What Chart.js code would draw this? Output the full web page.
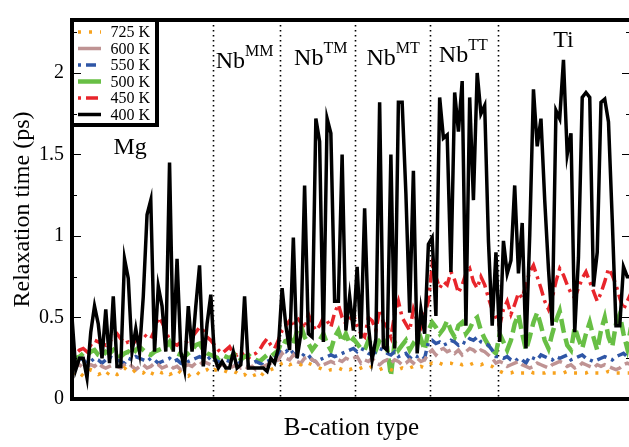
<!DOCTYPE html>
<html>
<head>
<meta charset="utf-8">
<script src="https://cdn.jsdelivr.net/npm/chart.js@4.4.1/dist/chart.umd.min.js"></script>
<style>
body { margin: 0; overflow: hidden; background: #fff; }
#wrap { width: 634px; height: 447px; position: relative; }
</style>
</head>
<body>
<div id="wrap"><canvas id="relaxChart"></canvas></div>
<script>
// B-cation regions, in order along the x axis
const regionNames = ['Mg', 'Nb', 'Nb', 'Nb', 'Nb', 'Ti'];
const regionSups = ['', 'MM', 'TM', 'MT', 'TT', ''];
const regionSizes = [38, 18, 20, 20, 18, 36];

const seriesLabels = ['725 K', '600 K', '550 K', '500 K', '450 K', '400 K'];

// relaxation time (ps) per cation
const t725 = [
  0.15,0.17,0.16,0.14,0.16,0.18,0.17,0.15,0.16,0.14,0.17,0.16,0.15,0.16,0.19,0.17,0.16,0.18,0.17,0.16,
  0.18,0.16,0.15,0.17,0.16,0.17,0.15,0.16,0.18,0.16,0.15,0.14,0.16,0.17,0.15,0.17,0.18,0.16,
  0.18,0.17,0.18,0.17,0.16,0.17,0.16,0.14,0.15,0.13,0.14,0.15,0.13,0.16,0.17,0.18,0.19,0.20,
  0.22,0.23,0.21,0.22,0.22,0.21,0.23,0.22,0.21,0.20,0.19,0.18,0.17,0.18,0.18,0.19,0.18,0.19,0.18,0.19,
  0.18,0.19,0.20,0.19,0.20,0.19,0.18,0.19,0.19,0.18,0.17,0.18,0.19,0.18,0.19,0.20,0.19,0.20,0.19,0.21,
  0.22,0.21,0.22,0.21,0.22,0.22,0.21,0.22,0.21,0.22,0.21,0.22,0.22,0.21,0.22,0.21,0.20,0.18,
  0.17,0.16,0.16,0.16,0.17,0.16,0.16,0.16,0.17,0.16,0.16,0.16,0.16,0.17,0.16,0.16,0.16,0.16,
  0.17,0.16,0.16,0.16,0.16,0.16,0.17,0.16,0.16,0.16,0.16,0.17,0.16,0.16,0.16,0.16,0.16,0.16
];
const t600 = [
  0.22,0.20,0.21,0.19,0.20,0.21,0.20,0.22,0.20,0.19,0.20,0.21,0.20,0.19,0.21,0.22,0.20,0.18,0.20,0.21,
  0.19,0.20,0.22,0.21,0.19,0.20,0.21,0.19,0.20,0.18,0.20,0.21,0.20,0.22,0.21,0.23,0.22,0.21,
  0.21,0.20,0.21,0.20,0.19,0.20,0.21,0.19,0.20,0.19,0.20,0.18,0.19,0.20,0.21,0.22,0.23,0.24,
  0.28,0.25,0.24,0.27,0.23,0.22,0.25,0.26,0.24,0.23,0.20,0.21,0.22,0.23,0.22,0.24,0.23,0.25,0.24,0.25,
  0.26,0.22,0.24,0.23,0.25,0.22,0.21,0.23,0.24,0.22,0.24,0.23,0.21,0.22,0.24,0.22,0.25,0.23,0.24,0.28,
  0.30,0.27,0.30,0.31,0.29,0.30,0.28,0.30,0.27,0.29,0.31,0.30,0.28,0.30,0.29,0.27,0.25,0.22,
  0.23,0.22,0.20,0.21,0.22,0.23,0.21,0.20,0.19,0.20,0.22,0.21,0.20,0.19,0.21,0.22,0.23,0.22,
  0.20,0.21,0.19,0.20,0.22,0.21,0.20,0.19,0.21,0.20,0.21,0.20,0.19,0.18,0.19,0.21,0.22,0.21
];
const t550 = [
  0.24,0.23,0.25,0.24,0.22,0.23,0.25,0.24,0.22,0.24,0.26,0.25,0.24,0.23,0.22,0.25,0.24,0.26,0.25,0.24,
  0.23,0.25,0.24,0.22,0.23,0.24,0.25,0.23,0.24,0.22,0.21,0.23,0.24,0.25,0.26,0.25,0.24,0.26,
  0.24,0.23,0.22,0.24,0.23,0.22,0.21,0.23,0.22,0.21,0.22,0.23,0.22,0.21,0.23,0.24,0.25,0.27,
  0.30,0.29,0.31,0.28,0.26,0.25,0.28,0.27,0.24,0.23,0.24,0.25,0.26,0.27,0.26,0.27,0.28,0.29,0.30,0.31,
  0.29,0.31,0.30,0.28,0.27,0.29,0.31,0.30,0.28,0.27,0.29,0.26,0.27,0.28,0.25,0.27,0.26,0.27,0.25,0.35,
  0.36,0.34,0.35,0.33,0.34,0.36,0.35,0.33,0.35,0.34,0.37,0.36,0.38,0.35,0.34,0.33,0.30,0.26,
  0.26,0.25,0.26,0.24,0.23,0.25,0.24,0.22,0.26,0.25,0.24,0.27,0.26,0.25,0.24,0.26,0.25,0.26,
  0.27,0.24,0.25,0.26,0.27,0.25,0.24,0.23,0.24,0.25,0.26,0.25,0.24,0.26,0.27,0.28,0.26,0.25
];
const t500 = [
  0.27,0.25,0.26,0.28,0.27,0.29,0.30,0.27,0.26,0.29,0.28,0.30,0.27,0.26,0.28,0.29,0.27,0.30,0.32,0.30,
  0.28,0.27,0.29,0.30,0.31,0.32,0.35,0.30,0.28,0.27,0.26,0.28,0.30,0.33,0.34,0.30,0.28,0.27,
  0.26,0.25,0.27,0.26,0.25,0.27,0.28,0.24,0.26,0.27,0.25,0.24,0.23,0.25,0.27,0.26,0.28,0.30,
  0.36,0.35,0.38,0.33,0.42,0.45,0.38,0.34,0.30,0.33,0.36,0.40,0.34,0.30,0.38,0.42,0.35,0.40,0.34,0.37,
  0.34,0.31,0.30,0.36,0.33,0.30,0.36,0.38,0.32,0.14,0.35,0.30,0.33,0.36,0.30,0.34,0.32,0.37,0.30,0.42,
  0.47,0.44,0.40,0.43,0.48,0.42,0.38,0.45,0.47,0.40,0.43,0.48,0.50,0.42,0.37,0.33,0.30,0.28,
  0.40,0.35,0.30,0.36,0.46,0.52,0.40,0.30,0.38,0.47,0.53,0.45,0.36,0.31,0.40,0.48,0.54,0.42,
  0.33,0.30,0.44,0.37,0.31,0.40,0.47,0.38,0.30,0.42,0.50,0.38,0.32,0.46,0.52,0.40,0.31,0.44
];
const t450 = [
  0.30,0.28,0.30,0.31,0.29,0.33,0.36,0.35,0.34,0.33,0.35,0.38,0.40,0.37,0.34,0.35,0.33,0.36,0.38,0.40,
  0.38,0.37,0.42,0.50,0.47,0.42,0.36,0.34,0.33,0.35,0.34,0.36,0.38,0.41,0.44,0.42,0.38,0.36,
  0.33,0.30,0.28,0.30,0.32,0.28,0.27,0.29,0.26,0.25,0.27,0.28,0.30,0.34,0.37,0.33,0.31,0.36,
  0.42,0.45,0.48,0.44,0.50,0.47,0.43,0.52,0.46,0.42,0.45,0.50,0.48,0.44,0.53,0.58,0.50,0.46,0.49,0.52,
  0.45,0.40,0.38,0.50,0.48,0.42,0.55,0.47,0.44,0.38,0.52,0.60,0.50,0.46,0.42,0.55,0.48,0.44,0.52,0.60,
  0.82,0.75,0.68,0.72,0.70,0.78,0.73,0.65,0.70,0.77,0.80,0.72,0.68,0.75,0.70,0.62,0.55,0.50,
  0.45,0.55,0.60,0.52,0.58,0.65,0.62,0.70,0.78,0.82,0.75,0.68,0.60,0.55,0.62,0.72,0.80,0.76,
  0.70,0.65,0.62,0.68,0.74,0.78,0.72,0.66,0.60,0.65,0.72,0.80,0.76,0.70,0.62,0.55,0.60,0.65
];
const t400 = [
  0.50,0.18,0.25,0.25,0.13,0.41,0.57,0.46,0.25,0.55,0.22,0.63,0.20,0.20,0.86,0.74,0.29,0.43,0.29,0.63,
  1.13,1.22,0.29,0.69,0.57,0.29,1.45,0.29,0.86,0.29,0.18,0.57,0.29,0.57,0.82,0.20,0.46,0.64,
  0.25,0.19,0.23,0.19,0.19,0.29,0.19,0.21,0.63,0.19,0.19,0.19,0.19,0.19,0.17,0.25,0.22,0.31,
  0.68,0.45,0.30,0.99,0.25,0.40,1.31,0.40,0.38,1.72,1.58,0.35,1.72,1.63,0.60,0.60,1.50,0.42,0.63,0.42,
  0.81,0.37,1.17,0.45,0.24,0.37,1.82,0.32,0.30,1.50,0.31,1.82,1.82,1.26,0.53,1.40,0.28,0.55,0.40,0.95,
  0.99,0.51,1.85,1.60,1.62,0.78,1.88,1.64,1.95,0.45,1.85,1.22,2.00,1.75,1.80,0.97,0.45,0.90,
  0.35,0.97,0.77,0.85,1.31,0.77,1.08,0.31,1.00,1.90,1.55,1.72,1.22,0.80,0.45,1.77,1.72,2.08,
  1.50,1.63,0.41,0.87,1.85,1.88,1.85,0.69,0.90,1.82,1.84,1.70,1.10,0.45,0.45,0.81,0.75,0.75
];

const yTicks = [0, 0.5, 1, 1.5, 2];

const allSeries = [t725, t600, t550, t500, t450, t400];
const colors = ['#f7a21e', '#bf9393', '#2f56a6', '#68bf45', '#e8252b', '#000000'];
const dashes = [[3, 8], [12, 5], [3, 5, 10, 5], [14, 6], [3, 5, 12, 5], []];
const widths = [3.5, 3.5, 3.5, 4.5, 3.5, 3.5];
const orders = [1, 2, 3, 4, 5, 0];

const serif = "'Liberation Serif', 'DejaVu Serif', serif";

const datasets = allSeries.map(function (vals, s) {
  return {
    label: seriesLabels[s],
    data: vals.map(function (v, i) { return { x: i, y: v }; }),
    borderColor: colors[s],
    borderDash: dashes[s],
    borderWidth: widths[s],
    pointRadius: 0,
    tension: 0,
    fill: false,
    order: orders[s],
  };
});

// where the region names sit (x in cation index, y in ps)
const labelPos = [[15.5, 1.50], [46, 2.03], [66.3, 2.05], [85.6, 2.05], [104.3, 2.07], [131, 2.16]];

const decor = {
  id: 'decor',
  beforeDatasetsDraw: function (chart) {
    const ctx = chart.ctx, a = chart.chartArea, xs = chart.scales.x;
    ctx.save();
    ctx.strokeStyle = '#000';
    ctx.lineWidth = 1.6;
    ctx.setLineDash([1.6, 3.4]);
    let cum = 0;
    for (let r = 0; r < regionSizes.length - 1; r++) {
      cum += regionSizes[r];
      const px = Math.round(xs.getPixelForValue(cum - 0.5)) + 0.5;
      ctx.beginPath();
      ctx.moveTo(px, a.top);
      ctx.lineTo(px, a.bottom);
      ctx.stroke();
    }
    ctx.restore();
  },
  afterDatasetsDraw: function (chart) {
    const ctx = chart.ctx, a = chart.chartArea, xs = chart.scales.x, ys = chart.scales.y;
    ctx.save();
    // region names
    ctx.fillStyle = '#000';
    ctx.textBaseline = 'alphabetic';
    for (let r = 0; r < regionNames.length; r++) {
      ctx.font = '24px ' + serif;
      const w1 = ctx.measureText(regionNames[r]).width;
      ctx.font = '16px ' + serif;
      const w2 = regionSups[r] ? ctx.measureText(regionSups[r]).width : 0;
      const cx = xs.getPixelForValue(labelPos[r][0]);
      const by = ys.getPixelForValue(labelPos[r][1]);
      const x0 = cx - (w1 + w2) / 2;
      ctx.textAlign = 'left';
      ctx.font = '24px ' + serif;
      ctx.fillText(regionNames[r], x0, by);
      if (regionSups[r]) {
        ctx.font = '16px ' + serif;
        ctx.fillText(regionSups[r], x0 + w1, by - 12);
      }
    }
    // legend box
    const lx = a.left, ly = a.top, lw = 85, lh = 105;
    ctx.fillStyle = '#fff';
    ctx.fillRect(lx, ly, lw, lh);
    ctx.font = '16px ' + serif;
    ctx.textAlign = 'right';
    chart.data.datasets.forEach(function (ds, i) {
      const base = ly + 17 + i * 16.5;
      ctx.fillStyle = '#000';
      ctx.fillText(ds.label, lx + 78, base);
      ctx.strokeStyle = ds.borderColor;
      ctx.lineWidth = ds.borderWidth;
      // long-dash styles show as a plain stroke in the key
      ctx.setLineDash(ds.borderDash.length && ds.borderDash[0] >= 10 ? [] : ds.borderDash);
      ctx.beginPath();
      ctx.moveTo(lx + 6, base - 5);
      ctx.lineTo(lx + 29, base - 5);
      ctx.stroke();
    });
    ctx.setLineDash([]);
    ctx.strokeStyle = '#000';
    ctx.lineWidth = 4;
    ctx.strokeRect(lx, ly, lw, lh);
    // frame
    ctx.strokeRect(a.left, a.top, a.right - a.left, a.bottom - a.top);
    // inward ticks on both sides
    ctx.lineWidth = 1.2;
    for (let v = 0.25; v <= 2.25; v += 0.25) {
      const major = Math.abs(v * 2 - Math.round(v * 2)) < 1e-6;
      const len = major ? 9 : 5;
      const py = Math.round(ys.getPixelForValue(v)) + 0.5;
      ctx.beginPath();
      ctx.moveTo(a.left, py); ctx.lineTo(a.left + len, py);
      ctx.moveTo(a.right, py); ctx.lineTo(a.right - len, py);
      ctx.stroke();
    }
    ctx.restore();
  }
};

const config = {
  type: 'line',
  data: { datasets: datasets },
  options: {
    responsive: true,
    maintainAspectRatio: false,
    animation: false,
    layout: { padding: { top: 6, right: 3, left: 0, bottom: 0 } },
    plugins: { legend: { display: false }, tooltip: { enabled: false } },
    scales: {
      x: {
        type: 'linear',
        min: 0,
        max: t400.length - 1,
        grid: { display: false, drawTicks: false },
        border: { display: false },
        ticks: { display: false },
        title: {
          display: true,
          text: 'B-cation type',
          color: '#000',
          font: { family: serif, size: 25 },
          padding: { top: 0, bottom: 4 },
        },
        afterFit: function (s) { s.height = 48; },
      },
      y: {
        min: 0,
        max: 2.325,
        grid: { display: false, drawTicks: false },
        border: { display: false },
        afterBuildTicks: function (s) { s.ticks = yTicks.map(function (v) { return { value: v }; }); },
        ticks: {
          color: '#000',
          padding: 8,
          font: { family: serif, size: 20 },
          callback: function (v) { return String(v); },
        },
        title: {
          display: true,
          text: 'Relaxation time (ps)',
          color: '#000',
          font: { family: serif, size: 24 },
          padding: { top: 8, bottom: 0 },
        },
        afterFit: function (s) { s.width = 72; },
      },
    },
  },
  plugins: [decor],
};

var relaxChart = new Chart(document.getElementById('relaxChart'), config);
</script>
</body>
</html>
